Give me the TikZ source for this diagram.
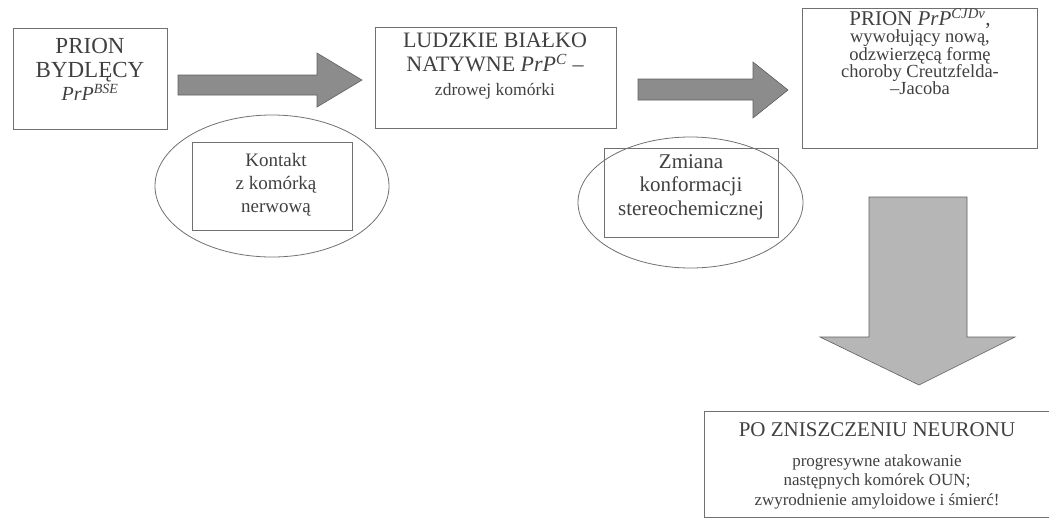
\documentclass[tikz,border=0pt]{standalone}
\usepackage{fontspec}
\setmainfont{Liberation Serif}
\usetikzlibrary{shapes.geometric}
\definecolor{ink}{HTML}{404040}
\definecolor{edge}{HTML}{707070}
\definecolor{darkfill}{HTML}{8C8C8C}
\definecolor{lightfill}{HTML}{B6B6B6}
\tikzset{
  boxshape/.style={draw=edge, line width=0.8pt, rectangle, inner sep=0pt},
  ellshape/.style={draw=edge, line width=0.8pt, ellipse, inner sep=0pt},
  txt/.style={text=ink, align=center, inner sep=0pt},
  blockarrow/.style={draw=edge!85!black, line width=0.6pt, fill=darkfill},
  blockarrowlight/.style={draw=edge!85!black, line width=0.6pt, fill=lightfill},
}
\begin{document}
\begin{tikzpicture}[x=1pt,y=-1pt]
\useasboundingbox (0,0) rectangle (1055,520);
% boxes
\node[boxshape, minimum width=154pt, minimum height=101pt] (b1) at (90,79) {};
\node[boxshape, minimum width=241pt, minimum height=101pt] (b2) at (495.5,77.5) {};
\node[boxshape, minimum width=235pt, minimum height=140pt] (b3) at (919.5,78) {};
\node[inner sep=0pt, minimum width=344pt, minimum height=105pt] (b4) at (877,464.5) {};
\draw[edge, line width=0.8pt] (b4.north east) -- (b4.north west) -- (b4.south west) -- (b4.south east);
% ellipses with inner rectangles
\node[ellshape, minimum width=234pt, minimum height=142pt] (e1) at (272,186) {};
\node[boxshape, minimum width=160pt, minimum height=88pt] (r1) at (272,186) {};
\node[ellshape, minimum width=225pt, minimum height=131pt] (e2) at (690.5,202.5) {};
\node[boxshape, minimum width=174pt, minimum height=89pt] (r2) at (691,192.5) {};
% texts
\node[txt, font=\fontsize{23}{24}\selectfont] (t1) at (90,69.5)
  {PRION\\BYDLĘCY\\[-1pt]{\fontsize{20}{24}\selectfont\textit{PrP}\textsuperscript{\textit{BSE}}}};
\node[txt, font=\fontsize{22}{24}\selectfont] (t2) at (495,66.5)
  {LUDZKIE BIAŁKO\\NATYWNE \textit{PrP}\textsuperscript{\textit{C}} –\\{\fontsize{17.5}{24}\selectfont zdrowej komórki}};
\node[txt, font=\fontsize{18.5}{17.2}\selectfont] (t3) at (920,51.5)
  {{\fontsize{21}{17.2}\selectfont PRION \textit{PrP}\textsuperscript{\textit{CJDv}},}\\wywołujący nową,\\odzwierzęcą formę\\choroby Creutzfelda-\\–Jacoba};
\node[txt, font=\fontsize{19}{23}\selectfont] (t4) at (276,185)
  {Kontakt\\z komórką\\nerwową};
\node[txt, font=\fontsize{21}{23.5}\selectfont] (t5) at (691,187)
  {Zmiana\\konformacji\\stereochemicznej};
\node[txt, font=\fontsize{17}{19.5}\selectfont] (t6) at (877,466)
  {{\fontsize{21}{19.5}\selectfont PO ZNISZCZENIU NEURONU}\\[10pt]progresywne atakowanie\\następnych komórek OUN;\\zwyrodnienie amyloidowe i śmierć!};
% block arrows
\draw[blockarrow] (178,75) -- (317,75) -- (317,53) -- (362,80) -- (317,107) -- (317,95) -- (178,95) -- cycle;
\draw[blockarrow] (638,79) -- (753,79) -- (753,62) -- (788,90) -- (753,118) -- (753,100) -- (638,100) -- cycle;
\draw[blockarrowlight] (869,197) -- (967,197) -- (967,337) -- (1015,337) -- (919,385) -- (820,337) -- (869,337) -- cycle;
\end{tikzpicture}
\end{document}
